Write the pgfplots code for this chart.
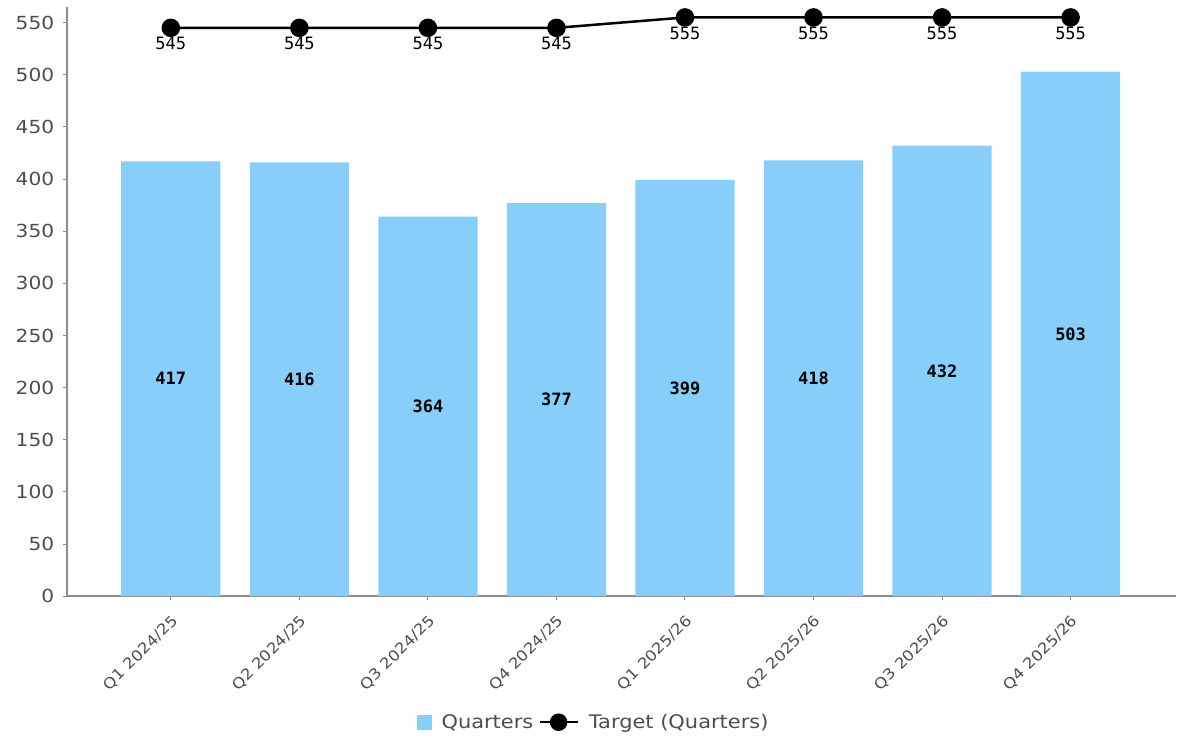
\documentclass[border=0pt]{standalone}
\usepackage{pgfplots}
\pgfplotsset{compat=1.18}
\usepackage{pgfplotstable}
\usepackage{fontspec}
\setmainfont{DejaVu Sans}[FakeStretch=1.12]
\newfontfamily\monofont{DejaVu Sans Mono}
\definecolor{barblue}{HTML}{87CEFA}
\definecolor{axisgray}{HTML}{8C8C8C}
\definecolor{labelgray}{HTML}{4D4D4D}

% quarter index, actual, target
\pgfplotstableread{
idx q t
0 417 545
1 416 545
2 364 545
3 377 545
4 399 555
5 418 555
6 432 555
7 503 555
}\quarters

\begin{document}
\begin{tikzpicture}
\begin{axis}[
  scale only axis, width=1109pt, height=589pt,
  xmin=-0.81, xmax=7.82, ymin=0, ymax=565,
  axis lines=left,
  axis line style={-, axisgray, line width=1.6pt},
  tick style={axisgray, line width=1pt},
  tick align=outside, major tick length=4pt,
  xtick={0,...,7},
  xticklabels={Q1 2024/25, Q2 2024/25, Q3 2024/25, Q4 2024/25,
               Q1 2025/26, Q2 2025/26, Q3 2025/26, Q4 2025/26},
  ytick={0,50,...,550},
  /pgf/number format/assume math mode=true,
  x tick label style={rotate=45, anchor=north east, text=labelgray,
                      xshift=-6.4pt, yshift=-6.4pt,
                      font=\fontsize{14.8}{14.8}\selectfont},
  y tick label style={text=labelgray, xshift=-5pt,
                      font=\fontsize{18}{18}\selectfont},
  legend style={at={(0.474,-0.214)}, anchor=center, draw=none,
                legend columns=2, text=labelgray,
                font=\fontsize{18.7}{18.7}\selectfont,
                nodes={inner sep=0pt},
                /tikz/every odd column/.append style={column sep=10pt},
                /tikz/every even column/.append style={column sep=5pt}},
  clip=false,
]
\addplot[ybar, bar width=0.772, fill=barblue, draw=none,
  legend image code/.code={\fill[barblue] (0pt,-7.5pt) rectangle (15pt,7.5pt);}]
  table[x=idx, y=q] {\quarters};
\addlegendentry{Quarters}
\addplot[black, line width=2.5pt, mark=*, mark size=8pt,
  nodes near coords, point meta=explicit,
  nodes near coords style={anchor=north, inner sep=0pt, yshift=-8pt,
     text=black, font=\monofont\fontsize{17}{17}\selectfont},
  legend image code/.code={\draw[black, line width=2.5pt] (0pt,0pt) -- (38pt,0pt);
     \fill[black] (19pt,0pt) circle (7.5pt);}]
  table[x=idx, y=t, meta=t] {\quarters};
\addlegendentry{Target (Quarters)}
% value labels in the middle of each bar
\addplot[draw=none, mark=none, forget plot,
  nodes near coords, point meta=explicit,
  nodes near coords style={anchor=center, inner sep=0pt, text=black,
     font=\monofont\bfseries\fontsize{17}{17}\selectfont}]
  table[x=idx, y expr=\thisrow{q}/2, meta=q] {\quarters};
\coordinate (bl) at (rel axis cs:0,0);
\coordinate (tr) at (rel axis cs:1,1);
\end{axis}
\pgfresetboundingbox
\path ([shift={(-66.7pt,-146pt)}]bl) rectangle ([shift={(3pt,7pt)}]tr);
\end{tikzpicture}
\end{document}
